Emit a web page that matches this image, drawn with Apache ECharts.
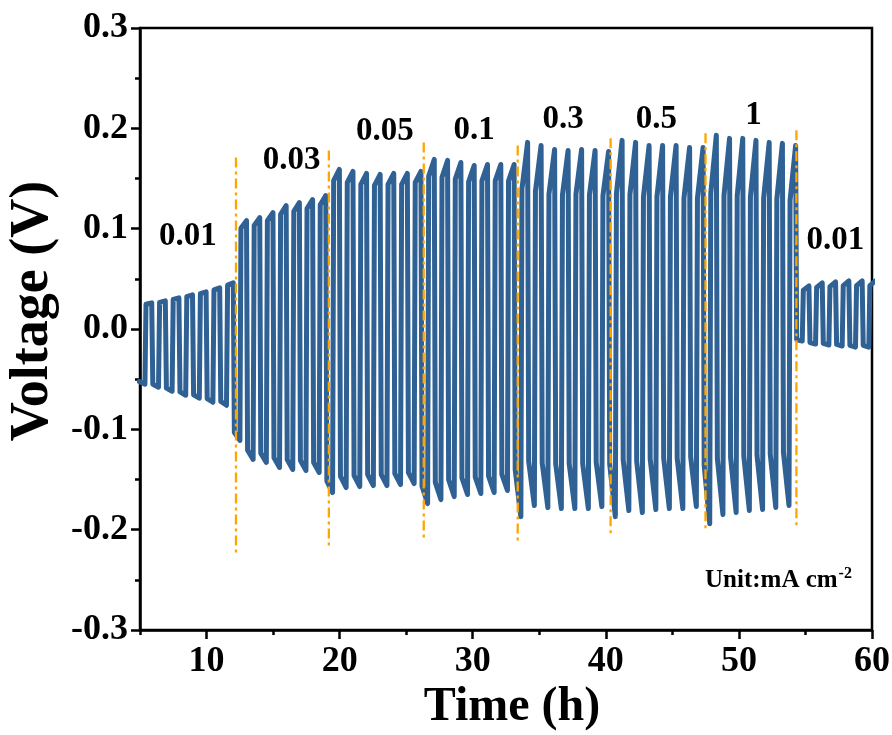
<!DOCTYPE html>
<html>
<head>
<meta charset="utf-8">
<script src="https://cdn.jsdelivr.net/npm/echarts@6/dist/echarts.min.js"></script>
<style>
html,body{margin:0;padding:0;background:#fff;}
#chart{width:892px;height:735px;}
</style>
</head>
<body>
<div id="chart"></div>
<script>
// ---- data ----
const segLabels = ['0.01', '0.03', '0.05', '0.1', '0.3', '0.5', '1', '0.01'];
const segStart = [4.9, 12.05, 19.0, 26.15, 33.15, 40.25, 47.35, 54.3];
const segEnd   = [12.05, 19.0, 26.15, 33.15, 40.25, 47.35, 54.3, 60.3];
const segLow = [
  [-0.055, -0.058, -0.062, -0.066, -0.069, -0.073, -0.076],
  [-0.111, -0.130, -0.133, -0.138, -0.140, -0.141, -0.143],
  [-0.163, -0.158, -0.157, -0.156, -0.156, -0.155, -0.154],
  [-0.174, -0.170, -0.167, -0.165, -0.164, -0.163, -0.161],
  [-0.187, -0.176, -0.178, -0.179, -0.179, -0.179, -0.177],
  [-0.187, -0.181, -0.183, -0.180, -0.179, -0.179, -0.177],
  [-0.194, -0.185, -0.183, -0.181, -0.180, -0.178, -0.176],
  [-0.012, -0.015, -0.016, -0.017, -0.018, -0.018]
];
const segHigh = [
  [0.026, 0.028, 0.031, 0.034, 0.037, 0.041, 0.046],
  [0.108, 0.111, 0.116, 0.123, 0.126, 0.129, 0.133],
  [0.159, 0.157, 0.155, 0.154, 0.155, 0.155, 0.157],
  [0.169, 0.168, 0.166, 0.163, 0.164, 0.164, 0.164],
  [0.186, 0.183, 0.179, 0.178, 0.179, 0.178, 0.177],
  [0.188, 0.186, 0.183, 0.183, 0.183, 0.181, 0.181],
  [0.193, 0.190, 0.190, 0.188, 0.186, 0.185, 0.183],
  [0.043, 0.046, 0.047, 0.048, 0.048, 0.048]
];
// fraction of each half-cycle's extreme reached right after the current switch
const segKnee = [0.95, 0.93, 0.93, 0.90, 0.75, 0.72, 0.70, 0.90];

const boundaryT = [12.21, 19.19, 26.32, 33.38, 40.36, 47.49, 54.32];
const boundaryTop = [0.171, 0.178, 0.186, 0.183, 0.190, 0.195, 0.198];
const boundaryBottom = [-0.225, -0.218, -0.210, -0.213, -0.207, -0.200, -0.198];

const xMajorTicks = [10, 20, 30, 40, 50, 60];
const xMinorTicks = [5, 15, 25, 35, 45, 55];
const xTitle = 'Time (h)';
const yTitle = 'Voltage (V)';
const unitText = 'Unit:mA cm';
const unitSup = '-2';

// label anchors (data coords) — layout only
const labelAnchor = [[8.6, 0.092], [16.4, 0.168], [23.4, 0.197], [30.1, 0.198],
                     [36.8, 0.209], [43.8, 0.209], [51.1, 0.213], [57.25, 0.088]];

// ---- build the voltage trace from per-cycle values ----
const trace = [];
for (let s = 0; s < segStart.length; s++) {
  const n = segLow[s].length;
  const P = (segEnd[s] - segStart[s]) / n;
  const k = segKnee[s];
  for (let c = 0; c < n; c++) {
    const t0 = segStart[s] + c * P;
    const lo = segLow[s][c], hi = segHigh[s][c];
    trace.push([t0 + 0.04 * P, lo * k]);
    trace.push([t0 + 0.46 * P, lo]);
    trace.push([t0 + 0.54 * P, hi * k]);
    trace.push([t0 + 0.96 * P, hi]);
  }
}

const FONT = '"Liberation Serif","Times New Roman",serif';
const series = [{
  type: 'line', data: trace, showSymbol: false, symbol: 'none', clip: true,
  lineStyle: { color: '#2f6194', width: 5, join: 'round', cap: 'round' },
  z: 3, animation: false
}];
boundaryT.forEach((t, i) => {
  series.push({
    type: 'line', data: [[t, boundaryTop[i]], [t, boundaryBottom[i]]],
    showSymbol: false, symbol: 'none',
    lineStyle: { color: '#FFA500', width: 2.3, type: [10, 4, 3, 4] },
    z: 4, animation: false
  });
});
series.push({
  type: 'scatter', symbolSize: 0, z: 5, animation: false,
  itemStyle: { opacity: 1, color: 'rgba(0,0,0,0)' },
  data: segLabels.map((name, i) => ({ name: name, value: labelAnchor[i] })),
  label: { show: true, position: 'inside', formatter: p => p.name, opacity: 1,
           fontFamily: FONT, fontWeight: 'bold', fontSize: 33, color: '#000',
           textBorderWidth: 0 }
});

const chart = echarts.init(document.getElementById('chart'), null, { renderer: 'canvas' });
chart.setOption({
  animation: false,
  backgroundColor: '#fff',
  grid: { left: 140, top: 28, width: 732, height: 602, show: true, outerBoundsMode: 'none',
          containLabel: false,
          borderColor: '#000', borderWidth: 2.5, backgroundColor: 'transparent' },
  xAxis: [{
    type: 'value', min: 5, max: 60, position: 'bottom',
    axisLine: { show: true, onZero: false, lineStyle: { color: '#000', width: 2.5 } },
    axisTick: { show: true, length: 9, customValues: xMajorTicks, lineStyle: { color: '#000', width: 2.5 } },
    axisLabel: { customValues: xMajorTicks, fontFamily: FONT, fontWeight: 'bold', fontSize: 36,
                 color: '#000', margin: 14 },
    splitLine: { show: false }
  }, {
    type: 'value', min: 5, max: 60, position: 'bottom',
    axisLine: { show: false, onZero: false },
    axisTick: { show: true, length: 5, customValues: xMinorTicks, lineStyle: { color: '#000', width: 2.5 } },
    axisLabel: { show: false }, splitLine: { show: false }
  }],
  yAxis: {
    type: 'value', min: -0.3, max: 0.3, interval: 0.1,
    axisLine: { show: true, onZero: false, lineStyle: { color: '#000', width: 2.5 } },
    axisTick: { show: true, length: 9, lineStyle: { color: '#000', width: 2.5 } },
    minorTick: { show: true, splitNumber: 2, length: 5, lineStyle: { color: '#000', width: 2.5 } },
    axisLabel: { fontFamily: FONT, fontWeight: 'bold', fontSize: 36, color: '#000', margin: 12,
                 formatter: v => (Math.abs(v) < 1e-9 ? 0 : v).toFixed(1) },
    splitLine: { show: false }
  },
  series: series,
  graphic: [{
    type: 'text', x: 512, y: 708, z: 10,
    style: { text: xTitle, fontFamily: FONT, fontWeight: 'bold', fontSize: 48, fill: '#000',
             align: 'center', verticalAlign: 'middle' }
  }, {
    type: 'text', x: 33, y: 311, rotation: Math.PI / 2, z: 10,
    style: { text: yTitle, fontFamily: FONT, fontWeight: 'bold', fontSize: 54, fill: '#000',
             align: 'center', verticalAlign: 'middle' }
  }, {
    type: 'text', left: 705, top: 566, z: 10,
    style: {
      text: '{a|' + unitText + '}{s|' + unitSup + '}',
      rich: {
        a: { fontFamily: FONT, fontWeight: 'bold', fontSize: 25, fill: '#000', lineHeight: 30 },
        s: { fontFamily: FONT, fontWeight: 'bold', fontSize: 16, fill: '#000', lineHeight: 30,
             verticalAlign: 'top', padding: [0, 0, 14, 1] }
      }
    }
  }]
});
</script>
</body>
</html>
